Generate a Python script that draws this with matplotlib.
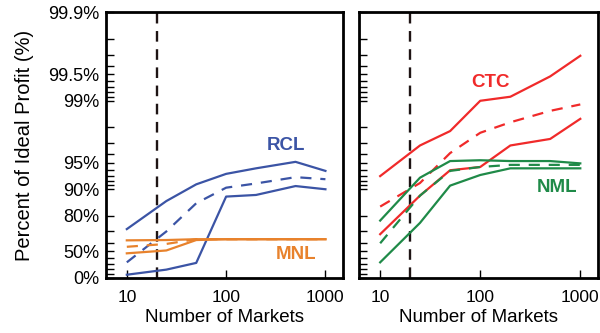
import numpy as np
import matplotlib
matplotlib.use("Agg")
import matplotlib.pyplot as plt

plt.rcParams["font.family"] = ["Liberation Sans", "DejaVu Sans"]

markets = [10, 25, 50, 100, 200, 500, 1000]

# percent of ideal profit
rcl_upper = [71.8, 86.4, 91.2, 93.3, 94.2, 95.1, 93.8]
rcl_mid = [33.0, 70.0, 85.6, 90.4, 91.4, 92.7, 92.3]
rcl_lower = [7.5, 19.0, 32.0, 87.9, 88.4, 90.8, 90.0]

mnl_upper = [62.2, 62.5, 63.3, 63.3, 63.3, 63.3, 63.3]
mnl_mid = [55.3, 58.5, 63.3, 63.3, 63.3, 63.3, 63.3]
mnl_lower = [47.0, 50.8, 62.5, 63.3, 63.3, 63.3, 63.3]

ctc_upper = [92.9, 96.8, 97.8, 99.0, 99.1, 99.47, 99.69]
ctc_mid = [84.3, 91.5, 96.1, 97.7, 98.25, 98.7, 98.9]
ctc_lower = [67.8, 88.2, 93.9, 94.4, 96.8, 97.3, 98.4]

nml_upper = [77.4, 92.6, 95.2, 95.3, 95.2, 95.2, 94.9]
nml_mid = [59.2, 88.2, 93.8, 94.4, 94.7, 94.7, 94.7]
nml_lower = [33.0, 76.0, 90.9, 93.1, 94.2, 94.2, 94.2]

y_major = [0, 50, 80, 90, 95, 99, 99.5, 99.9]
y_major_labels = ["0%", "50%", "80%", "90%", "95%", "99%", "99.5%", "99.9%"]
y_minor = [10, 20, 30, 40, 60, 70, 91, 92, 93, 94, 96, 97, 98,
           99.1, 99.2, 99.3, 99.4, 99.6, 99.7, 99.8]
x_ticks = [10, 100, 1000]
cutoff = 20

blue = "#3b54a5"
orange = "#e8822c"
red = "#f02a2a"
green = "#1f8a48"


def fwd(p):
    p = np.asarray(p, dtype=float)
    return -np.log10(np.clip(1 - p / 100.0, 1e-6, None))


def inv(t):
    t = np.asarray(t, dtype=float)
    return 100.0 * (1 - 10.0 ** (-t))


fig = plt.figure(figsize=(6, 3.33), dpi=100)
ax1 = fig.add_axes([0.177, 0.166, 0.395, 0.797])
ax2 = fig.add_axes([0.599, 0.166, 0.398, 0.797])

dash = (0, (5, 4))

for ax in (ax1, ax2):
    ax.set_xscale("log")
    ax.set_yscale("function", functions=(fwd, inv))
    ax.set_xlim(6.2, 1510)
    ax.set_ylim(0, 99.9)
    ax.axvline(cutoff, color="#1e1414", lw=1.7, ls=(0, (4.5, 3.2)), zorder=1)
    ax.set_xticks(x_ticks)
    ax.set_xticklabels([str(v) for v in x_ticks])
    ax.xaxis.set_minor_locator(matplotlib.ticker.NullLocator())
    ax.set_yticks(y_major)
    ax.set_yticks(y_minor, minor=True)
    ax.tick_params(axis="both", which="both", direction="in", top=False, right=False,
                   width=1, length=6)
    ax.tick_params(axis="x", labelsize=12.5, pad=9)
    ax.tick_params(axis="y", labelsize=13, pad=5)
    for s in ax.spines.values():
        s.set_linewidth(2)
    ax.set_xlabel("Number of Markets", fontsize=13.5, labelpad=3)

ax1.set_yticklabels(y_major_labels)
ax2.set_yticklabels([])
ax1.set_ylabel("Percent of Ideal Profit (%)", fontsize=14.5, labelpad=10)

lw = 1.6
ax1.plot(markets, rcl_upper, color=blue, lw=lw)
ax1.plot(markets, rcl_mid, color=blue, lw=lw, ls=dash)
ax1.plot(markets, rcl_lower, color=blue, lw=lw)
ax1.plot(markets, mnl_upper, color=orange, lw=lw)
ax1.plot(markets, mnl_mid, color=orange, lw=lw, ls=dash)
ax1.plot(markets, mnl_lower, color=orange, lw=lw)

ax2.plot(markets, ctc_upper, color=red, lw=lw)
ax2.plot(markets, ctc_mid, color=red, lw=lw, ls=dash)
ax2.plot(markets, ctc_lower, color=red, lw=lw)
ax2.plot(markets, nml_upper, color=green, lw=lw)
ax2.plot(markets, nml_mid, color=green, lw=lw, ls=dash)
ax2.plot(markets, nml_lower, color=green, lw=lw)

ax1.text(0.76, 0.50, "RCL", color=blue, fontsize=13.5, fontweight="bold",
         ha="center", va="center", transform=ax1.transAxes)
ax1.text(0.80, 0.087, "MNL", color=orange, fontsize=13.5, fontweight="bold",
         ha="center", va="center", transform=ax1.transAxes)
ax2.text(0.551, 0.734, "CTC", color=red, fontsize=13.5, fontweight="bold",
         ha="center", va="center", transform=ax2.transAxes)
ax2.text(0.826, 0.34, "NML", color=green, fontsize=13.5, fontweight="bold",
         ha="center", va="center", transform=ax2.transAxes)

fig.savefig("out.png", dpi=100)
